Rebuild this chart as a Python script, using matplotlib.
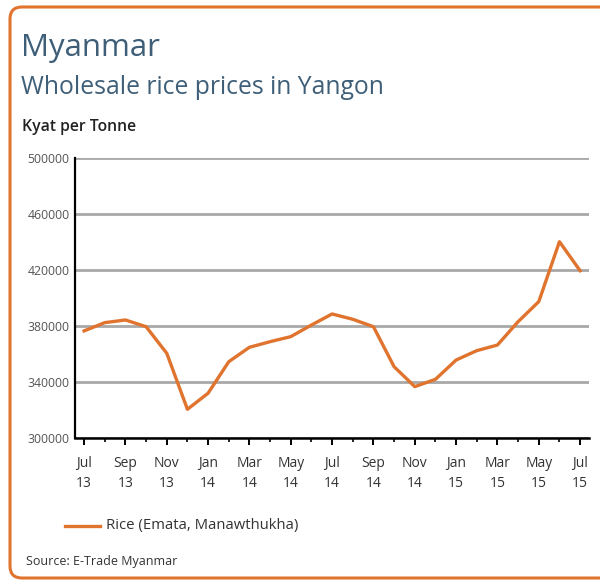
import matplotlib.pyplot as plt
from matplotlib.patches import PathPatch
from matplotlib.path import Path
from matplotlib.lines import Line2D
from matplotlib.transforms import IdentityTransform

plt.rcParams['font.family'] = ['Open Sans', 'DejaVu Sans']

# monthly wholesale price, Jul 2013 - Jul 2015 (kyat per tonne)
months = ["Jul 13", "Aug 13", "Sep 13", "Oct 13", "Nov 13", "Dec 13",
          "Jan 14", "Feb 14", "Mar 14", "Apr 14", "May 14", "Jun 14",
          "Jul 14", "Aug 14", "Sep 14", "Oct 14", "Nov 14", "Dec 14",
          "Jan 15", "Feb 15", "Mar 15", "Apr 15", "May 15", "Jun 15", "Jul 15"]
rice = [376500, 382400, 384300, 379500, 360500, 320500,
        332000, 354500, 364800, 368800, 372400, 380700,
        388600, 384800, 379500, 350900, 336700, 341900,
        355700, 362400, 366400, 383100, 397400, 440200, 419500]
tick_labels = ["Jul\n13", "Sep\n13", "Nov\n13", "Jan\n14", "Mar\n14", "May\n14", "Jul\n14",
               "Sep\n14", "Nov\n14", "Jan\n15", "Mar\n15", "May\n15", "Jul\n15"]
y_ticks = [300000, 340000, 380000, 420000, 460000, 500000]

orange = "#e0742f"
title_col = "#3f5f78"

fig = plt.figure(figsize=(6.01, 5.8), dpi=100)

# orange frame: top, left and bottom with rounded left corners (pixel coords)
verts = [(600, 573), (22, 573), (10, 573), (10, 561), (10, 14), (10, 2), (22, 2), (600, 2)]
codes = [Path.MOVETO, Path.LINETO, Path.CURVE3, Path.CURVE3, Path.LINETO,
         Path.CURVE3, Path.CURVE3, Path.LINETO]
frame = PathPatch(Path(verts, codes), transform=IdentityTransform(), fill=False,
                  edgecolor=orange, linewidth=2.2, clip_on=False)
fig.patches.append(frame)

fig.text(21 / 601, 1 - 48 / 580, "Myanmar", fontsize=22.5, color=title_col, va="center", ha="left")
fig.text(21 / 601, 1 - 87 / 580, "Wholesale rice prices in Yangon", fontsize=17.8, color=title_col,
         va="center", ha="left")
fig.text(22 / 601, 1 - 127 / 580, "Kyat per Tonne", fontsize=11.3, color="#222222",
         va="center", ha="left", fontweight="semibold")

ax = fig.add_axes([75 / 601, 1 - 438 / 580, (589 - 75) / 601, 280 / 580])
x = list(range(len(rice)))
ax.plot(x, rice, color=orange, linewidth=2.4, solid_joinstyle="round", zorder=3)

ax.set_ylim(300000, 500000)
ax.set_xlim(-0.44, 24.43)
ax.set_yticks(y_ticks)
ax.set_yticklabels([str(v) for v in y_ticks], fontsize=8.8, color="#555555")
ax.set_xticks(x[::2])
ax.set_xticklabels(tick_labels, fontsize=10, color="#333333", linespacing=1.45)
ax.set_xticks(x, minor=True)
ax.grid(axis="y", color="#a8a8a8", linewidth=2)
ax.set_axisbelow(True)

for s in ["top", "right"]:
    ax.spines[s].set_visible(False)
ax.spines["left"].set_linewidth(1.6)
ax.spines["bottom"].set_linewidth(1.8)
ax.tick_params(axis="y", length=0, pad=4)
ax.tick_params(axis="x", which="major", length=5, width=1.4, direction="out", pad=8)
ax.tick_params(axis="x", which="minor", length=3, width=1.2, direction="out")

# legend drawn by hand in figure space
fig.add_artist(Line2D([65 / 601, 100 / 601], [1 - 526 / 580, 1 - 526 / 580],
                      color=orange, linewidth=2.4, transform=fig.transFigure))
fig.text(106 / 601, 1 - 526 / 580, "Rice (Emata, Manawthukha)", fontsize=10.7, color="#333333",
         va="center", ha="left")
fig.text(26 / 601, 1 - 562 / 580, "Source: E-Trade Myanmar", fontsize=9, color="#333333",
         va="center", ha="left")

fig.savefig("out.png", dpi=100)
